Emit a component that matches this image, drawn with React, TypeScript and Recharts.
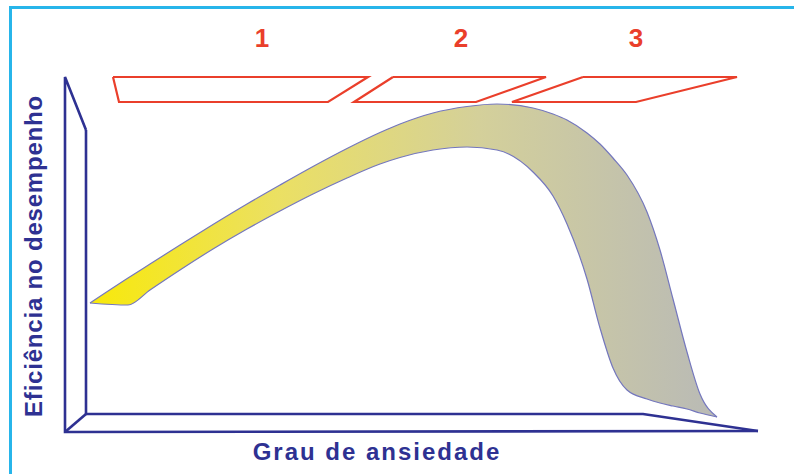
import React from 'react';
import { ComposedChart, Area, Line, XAxis, YAxis, ReferenceDot } from 'recharts';

// Diagram units: x grows to the right, y grows upward (0..794 / 0..474 canvas)
const W = 794;
const H = 474;

// Anxiety / efficiency ribbon: outer (top) and inner (bottom) edges
const bandX = [90, 128, 150, 180, 213, 247, 280, 313, 347, 380, 400, 433, 467, 497, 533, 553, 567, 587, 600, 613, 627, 647, 660, 673, 687, 700, 717];
const bandTop = [171, 196, 210, 229, 249.5, 270, 289, 307.5, 325.5, 341.5, 350, 361, 367.5, 370, 366, 360, 354, 341, 330, 316, 299, 262, 224, 175, 122, 80, 57];
const bandBottom = [171, 169, 184, 204, 225, 245, 263, 280, 296, 310, 316.5, 324, 327, 324, 302, 278, 250, 195, 146, 106, 84, 75, 71, 68, 65, 61, 57];

// 3D axis frame polylines
const frameInnerX = [86, 86, 643, 758];
const frameInnerY = [344, 60, 60, 43];
const frameOuterX = [86, 65, 65, 758];
const frameOuterY = [344, 397, 42, 43];
const frameCornerX = [65, 86];
const frameCornerY = [42, 60];

// Zone boxes 1, 2, 3 (closed parallelograms)
const zoneNames = ['1', '2', '3'];
const zoneLabelX = [262, 461, 636];
const zoneLabelY = 427;
const zoneBoxX = [
  [113, 368, 328, 119, 113],
  [393, 546, 476, 354, 393],
  [583, 737, 636, 512, 583],
];
const zoneBoxY = [397, 397, 372, 372, 397];

const xTitle = 'Grau de ansiedade';
const yTitle = 'Eficiência no desempenho';

const NAVY = '#2e3192';
const RED = '#ea3f2b';
const FONT = '"Liberation Sans", Arial, sans-serif';

const bandData = bandX.map((x, i) => ({ x, band: [bandBottom[i], bandTop[i]] }));
const toPts = (xs: number[], ys: number[]) => xs.map((x, i) => ({ x, y: ys[i] }));

const frames = [
  toPts(frameInnerX, frameInnerY),
  toPts(frameOuterX, frameOuterY),
  toPts(frameCornerX, frameCornerY),
];
const zones = zoneBoxX.map((xs) => toPts(xs, zoneBoxY));

function TitleText({ viewBox, value, angle = 0, size, spacing, fill }: any) {
  const cx = viewBox.x + viewBox.width / 2;
  const cy = viewBox.y + viewBox.height / 2;
  return (
    <text
      x={cx}
      y={cy}
      textAnchor="middle"
      fill={fill}
      fontFamily={FONT}
      fontWeight="bold"
      fontSize={size}
      letterSpacing={spacing}
      transform={angle ? `rotate(${angle} ${cx} ${cy})` : undefined}
    >
      {value}
    </text>
  );
}

export default function App() {
  return (
    <div style={{ position: 'absolute', left: 0, top: 0, width: W, height: H, background: '#fff', overflow: 'hidden' }}>
      <div
        style={{
          position: 'absolute',
          left: 9,
          top: 6,
          width: 800,
          height: 465,
          borderLeft: '3px solid #27b5ea',
          borderTop: '3px solid #27b5ea',
          borderBottom: '2px solid #d8f1fb',
        }}
      />
      <div style={{ position: 'absolute', left: 0, top: 0 }}>
        <ComposedChart width={W} height={H} data={bandData} margin={{ top: 0, right: 0, bottom: 0, left: 0 }}>
          <defs>
            <linearGradient id="bandFill" x1="0" y1="0" x2="1" y2="0">
              <stop offset="0%" stopColor="#f8e90a" />
              <stop offset="30%" stopColor="#ebe063" />
              <stop offset="62%" stopColor="#d4d09a" />
              <stop offset="100%" stopColor="#b9bab6" />
            </linearGradient>
          </defs>
          <XAxis type="number" dataKey="x" domain={[0, W]} hide />
          <YAxis type="number" domain={[0, H]} hide />
          <Area
            type="monotone"
            dataKey="band"
            fill="url(#bandFill)"
            fillOpacity={1}
            stroke="#7477bd"
            strokeWidth={1.2}
            dot={false}
            activeDot={false}
            isAnimationActive={false}
          />
          {frames.map((pts, i) => (
            <Line
              key={'f' + i}
              data={pts}
              dataKey="y"
              type="linear"
              stroke={NAVY}
              strokeWidth={2.6}
              strokeLinejoin="miter"
              dot={false}
              activeDot={false}
              isAnimationActive={false}
            />
          ))}
          {zones.map((pts, i) => (
            <Line
              key={'z' + i}
              data={pts}
              dataKey="y"
              type="linear"
              stroke={RED}
              strokeWidth={2.2}
              strokeLinejoin="miter"
              dot={false}
              activeDot={false}
              isAnimationActive={false}
            />
          ))}
          {zoneNames.map((name, i) => (
            <ReferenceDot
              key={'n' + i}
              x={zoneLabelX[i]}
              y={zoneLabelY}
              r={0}
              fill="none"
              stroke="none"
              label={{ content: (p: any) => <TitleText {...p} value={name} size={26} spacing={0} fill={RED} /> }}
            />
          ))}
          <ReferenceDot
            x={377}
            y={14}
            r={0}
            fill="none"
            stroke="none"
            label={{ content: (p: any) => <TitleText {...p} value={xTitle} size={24} spacing={2} fill={NAVY} /> }}
          />
          <ReferenceDot
            x={42}
            y={218}
            r={0}
            fill="none"
            stroke="none"
            label={{ content: (p: any) => <TitleText {...p} value={yTitle} angle={-90} size={24} spacing={0.8} fill={NAVY} /> }}
          />
        </ComposedChart>
      </div>
    </div>
  );
}
